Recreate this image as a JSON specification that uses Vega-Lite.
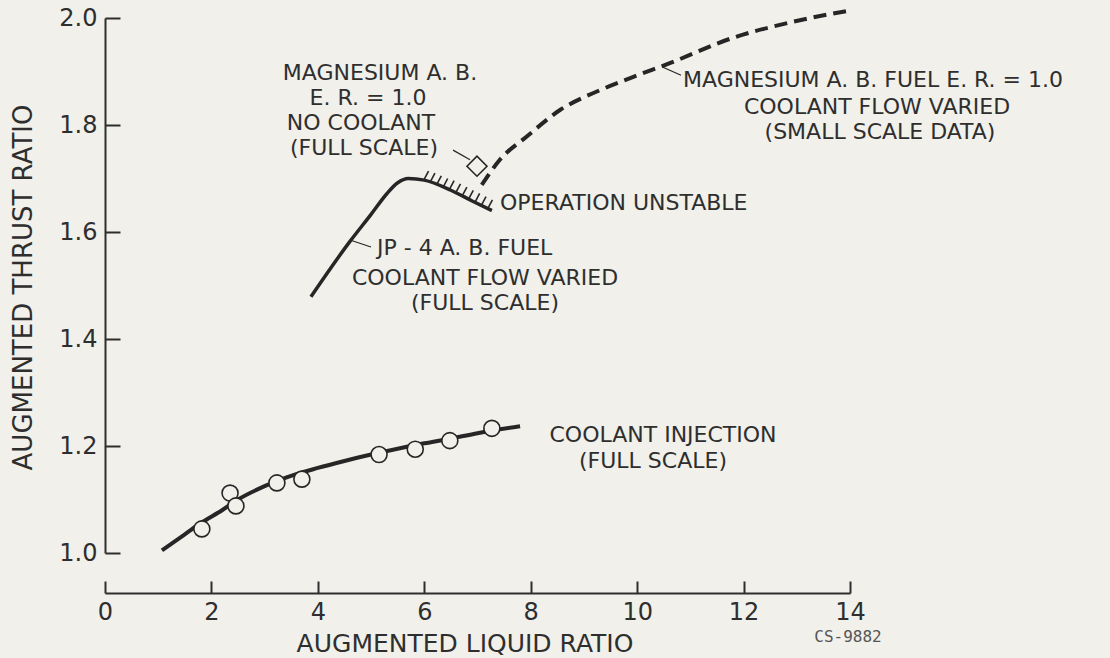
{
  "$schema": "https://vega.github.io/schema/vega-lite/v6.json",
  "width": 745,
  "height": 535,
  "autosize": {"type": "none"},
  "padding": {"left": 105, "top": 18, "right": 260, "bottom": 105},
  "background": "#f1f0ea",
  "config": {
    "view": {"stroke": null},
    "axis": {"grid": false},
    "font": "DejaVu Sans"
  },
  "datasets": {
    "coolant": [
      {"x": 1.07, "y": 1.005}, {"x": 1.5, "y": 1.035}, {"x": 1.8, "y": 1.056},
      {"x": 2.2, "y": 1.08}, {"x": 2.5, "y": 1.1}, {"x": 3.0, "y": 1.125},
      {"x": 3.4, "y": 1.141}, {"x": 4.0, "y": 1.159}, {"x": 4.5, "y": 1.172},
      {"x": 5.0, "y": 1.184}, {"x": 5.5, "y": 1.195}, {"x": 6.0, "y": 1.205},
      {"x": 6.5, "y": 1.214}, {"x": 7.0, "y": 1.224}, {"x": 7.8, "y": 1.237}
    ],
    "points": [
      {"x": 1.82, "y": 1.045}, {"x": 2.35, "y": 1.112}, {"x": 2.46, "y": 1.088},
      {"x": 3.23, "y": 1.131}, {"x": 3.7, "y": 1.138}, {"x": 5.15, "y": 1.184},
      {"x": 5.83, "y": 1.194}, {"x": 6.48, "y": 1.21}, {"x": 7.27, "y": 1.233}
    ],
    "jp4": [
      {"x": 3.87, "y": 1.479}, {"x": 4.6, "y": 1.582}, {"x": 5.0, "y": 1.633},
      {"x": 5.3, "y": 1.672}, {"x": 5.5, "y": 1.692}, {"x": 5.7, "y": 1.7},
      {"x": 6.0, "y": 1.697}, {"x": 6.5, "y": 1.678}, {"x": 6.9, "y": 1.658},
      {"x": 7.27, "y": 1.64}
    ],
    "hatch": [
      {"x": 6.0, "y": 1.699, "x2": 6.08, "y2": 1.714},
      {"x": 6.12, "y": 1.695, "x2": 6.2, "y2": 1.71},
      {"x": 6.24, "y": 1.69, "x2": 6.32, "y2": 1.705},
      {"x": 6.36, "y": 1.685, "x2": 6.44, "y2": 1.7},
      {"x": 6.48, "y": 1.681, "x2": 6.56, "y2": 1.696},
      {"x": 6.6, "y": 1.675, "x2": 6.68, "y2": 1.69},
      {"x": 6.72, "y": 1.669, "x2": 6.8, "y2": 1.684},
      {"x": 6.84, "y": 1.663, "x2": 6.92, "y2": 1.678},
      {"x": 6.96, "y": 1.657, "x2": 7.04, "y2": 1.672},
      {"x": 7.08, "y": 1.651, "x2": 7.16, "y2": 1.666},
      {"x": 7.2, "y": 1.645, "x2": 7.28, "y2": 1.66}
    ],
    "mg": [
      {"x": 7.08, "y": 1.688}, {"x": 7.42, "y": 1.735}, {"x": 7.92, "y": 1.778},
      {"x": 8.55, "y": 1.828}, {"x": 9.3, "y": 1.865}, {"x": 9.93, "y": 1.89},
      {"x": 10.6, "y": 1.915}, {"x": 11.8, "y": 1.963}, {"x": 12.8, "y": 1.99},
      {"x": 14.05, "y": 2.015}
    ],
    "diamond": [{"x": 6.99, "y": 1.723}],
    "leaders": [
      {"x": 6.54, "y": 1.753, "x2": 6.86, "y2": 1.735},
      {"x": 10.486, "y": 1.908, "x2": 10.824, "y2": 1.893},
      {"x": 4.604, "y": 1.585, "x2": 4.999, "y2": 1.572}
    ],
    "labelsCenter": [
      {"x": 5.168, "y": 1.8972, "t": "MAGNESIUM A. B."},
      {"x": 4.942, "y": 1.8505, "t": "E. R. = 1.0"},
      {"x": 4.811, "y": 1.8037, "t": "NO COOLANT"},
      {"x": 4.867, "y": 1.757, "t": "(FULL SCALE)"},
      {"x": 14.507, "y": 1.834, "t": "COOLANT FLOW VARIED"},
      {"x": 14.564, "y": 1.787, "t": "(SMALL SCALE DATA)"},
      {"x": 7.141, "y": 1.514, "t": "COOLANT FLOW VARIED"},
      {"x": 7.141, "y": 1.467, "t": "(FULL SCALE)"},
      {"x": 10.486, "y": 1.2206, "t": "COOLANT INJECTION"},
      {"x": 10.298, "y": 1.172, "t": "(FULL SCALE)"}
    ],
    "labelsLeft": [
      {"x": 10.862, "y": 1.884, "t": "MAGNESIUM A. B. FUEL E. R. = 1.0"},
      {"x": 7.423, "y": 1.654, "t": "OPERATION UNSTABLE"},
      {"x": 5.111, "y": 1.57, "t": "JP - 4  A. B. FUEL"}
    ],
    "code": [{"x": 13.963, "y": 0.843, "t": "CS-9882"}]
  },
  "encoding": {
    "x": {
      "field": "x", "type": "quantitative",
      "scale": {"domain": [0, 14], "nice": false, "zero": false},
      "axis": {
        "values": [0, 2, 4, 6, 8, 10, 12, 14], "format": "d",
        "offset": 40, "tickSize": -12, "tickWidth": 2, "tickColor": "#2e2e2e",
        "domainColor": "#2e2e2e", "domainWidth": 2,
        "labelFont": "DejaVu Sans", "labelFontSize": 24, "labelColor": "#2e2e2e",
        "labelPadding": 19, "labelFlush": false, "labelOverlap": false,
        "title": "AUGMENTED LIQUID RATIO", "titleFont": "DejaVu Sans",
        "titleFontSize": 25, "titleFontWeight": "normal", "titleColor": "#2e2e2e",
        "titleX": 359.5, "titleY": 50, "titleBaseline": "middle", "titleAlign": "center"
      }
    },
    "y": {
      "field": "y", "type": "quantitative",
      "scale": {"domain": [1, 2], "nice": false, "zero": false},
      "axis": {
        "values": [1.0, 1.2, 1.4, 1.6, 1.8, 2.0], "format": ".1f",
        "tickSize": -15, "tickWidth": 2, "tickColor": "#2e2e2e",
        "domainColor": "#2e2e2e", "domainWidth": 2,
        "labelFont": "DejaVu Sans", "labelFontSize": 24, "labelColor": "#2e2e2e",
        "labelPadding": 23, "labelFlush": false, "labelOverlap": false,
        "title": "AUGMENTED THRUST RATIO", "titleFont": "DejaVu Sans",
        "titleFontSize": 26, "titleFontWeight": "normal", "titleColor": "#2e2e2e",
        "titleX": -82, "titleY": 269, "titleBaseline": "middle", "titleAlign": "center", "titleAngle": -90
      }
    }
  },
  "layer": [
    {"data": {"name": "coolant"}, "mark": {"type": "line", "interpolate": "monotone", "color": "#262626", "strokeWidth": 4}},
    {"data": {"name": "points"}, "mark": {"type": "point", "shape": "circle", "size": 256, "filled": false, "fill": "#f1f0ea", "fillOpacity": 1, "stroke": "#262626", "strokeWidth": 1.6, "opacity": 1}},
    {"data": {"name": "jp4"}, "mark": {"type": "line", "interpolate": "monotone", "color": "#262626", "strokeWidth": 3.5}},
    {"data": {"name": "hatch"}, "mark": {"type": "rule", "color": "#262626", "strokeWidth": 1.6}, "encoding": {"x2": {"field": "x2"}, "y2": {"field": "y2"}}},
    {"data": {"name": "mg"}, "mark": {"type": "line", "interpolate": "monotone", "color": "#262626", "strokeWidth": 4, "strokeDash": [13, 7]}},
    {"data": {"name": "diamond"}, "mark": {"type": "point", "shape": "diamond", "size": 400, "filled": false, "fill": "#f1f0ea", "fillOpacity": 1, "stroke": "#262626", "strokeWidth": 1.6, "opacity": 1}},
    {"data": {"name": "leaders"}, "mark": {"type": "rule", "color": "#262626", "strokeWidth": 1.2}, "encoding": {"x2": {"field": "x2"}, "y2": {"field": "y2"}}},
    {"data": {"name": "labelsCenter"}, "mark": {"type": "text", "align": "center", "baseline": "middle", "font": "DejaVu Sans", "fontSize": 22, "color": "#2e2e2e"}, "encoding": {"text": {"field": "t"}}},
    {"data": {"name": "labelsLeft"}, "mark": {"type": "text", "align": "left", "baseline": "middle", "font": "DejaVu Sans", "fontSize": 22, "color": "#2e2e2e"}, "encoding": {"text": {"field": "t"}}},
    {"data": {"name": "code"}, "mark": {"type": "text", "align": "center", "baseline": "middle", "font": "DejaVu Sans Mono", "fontSize": 16, "color": "#555555"}, "encoding": {"text": {"field": "t"}}}
  ]
}
